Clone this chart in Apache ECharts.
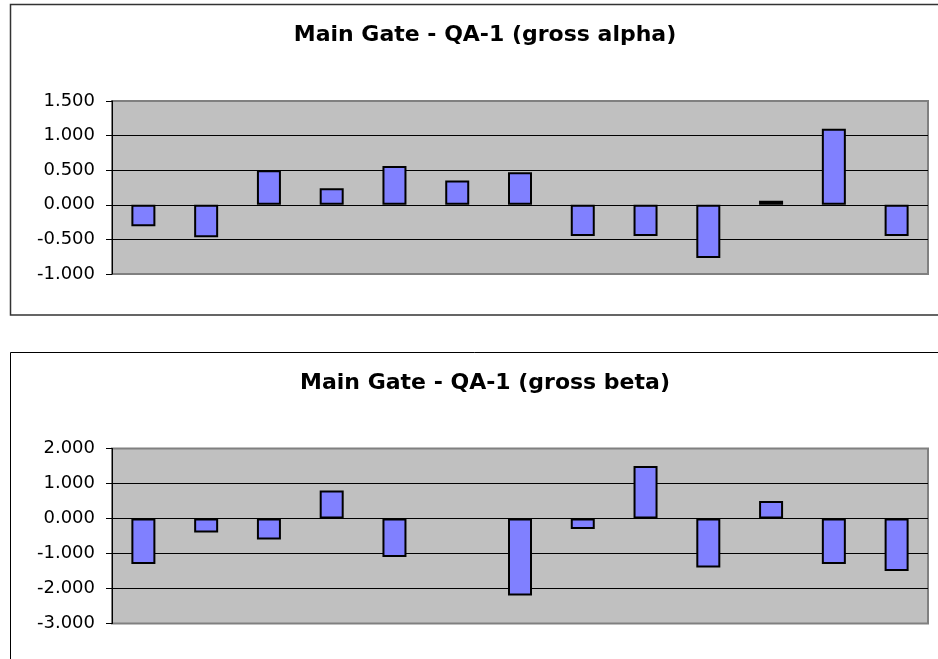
<!DOCTYPE html>
<html>
<head>
<meta charset="utf-8">
<script src="https://cdn.jsdelivr.net/npm/echarts@6/dist/echarts.min.js"></script>
<style>
  html, body { margin: 0; padding: 0; background: #ffffff; }
  #chart { width: 938px; height: 659px; }
</style>
</head>
<body>
<div id="chart"></div>
<script>
// Sample sequence (13 QA-1 measurements per panel)
const categories = ['1', '2', '3', '4', '5', '6', '7', '8', '9', '10', '11', '12', '13'];

// Gross alpha results
const alphaValues = [-0.31, -0.47, 0.50, 0.24, 0.56, 0.35, 0.47, -0.45, -0.45, -0.77, 0.06, 1.10, -0.45];

// Gross beta results (no result for sample 6)
const betaValues = [-1.3, -0.4, -0.6, 0.8, -1.1, null, -2.2, -0.3, 1.5, -1.4, 0.5, -1.3, -1.5];

// Value axis ranges / tick steps
const alphaAxis = { min: -1, max: 1.5, interval: 0.5 };
const betaAxis = { min: -3, max: 2, interval: 1 };

const titles = ['Main Gate - QA-1 (gross alpha)', 'Main Gate - QA-1 (gross beta)'];

const FONT = 'DejaVu Sans';
const PANEL_OFFSET = 348;

function gridFor(i) {
  return {
    left: 112,
    right: 10,
    top: i === 0 ? 101 : 101 + PANEL_OFFSET - 0.5,
    height: i === 0 ? 173 : 175,
    show: true,
    backgroundColor: '#C0C0C0',
    borderColor: '#808080',
    borderWidth: 2
  };
}

function yAxisFor(i, range) {
  return {
    type: 'value',
    gridIndex: i,
    min: range.min,
    max: range.max,
    interval: range.interval,
    axisLine: { show: true, lineStyle: { color: '#000000', width: 1 } },
    axisTick: { show: true, length: 6, lineStyle: { color: '#000000', width: 1 } },
    axisLabel: {
      margin: 17,
      color: '#000000',
      fontFamily: FONT,
      fontSize: 18,
      formatter: v => v.toFixed(3)
    },
    splitLine: {
      show: true,
      showMinLine: false,
      showMaxLine: false,
      lineStyle: { color: '#000000', width: 1 }
    }
  };
}

function xAxisFor(i) {
  return {
    type: 'category',
    gridIndex: i,
    data: categories,
    boundaryGap: true,
    axisLine: { show: false },
    axisTick: { show: false },
    axisLabel: { show: false },
    splitLine: { show: false }
  };
}

function barSeries(i, values) {
  return {
    type: 'bar',
    xAxisIndex: i,
    yAxisIndex: i,
    data: values,
    barWidth: 24,
    itemStyle: { color: '#8080FF', borderColor: '#000000', borderWidth: 2 },
    emphasis: { disabled: true },
    animation: false
  };
}

const chart = echarts.init(document.getElementById('chart'), null, { renderer: 'canvas' });

chart.setOption({
  animation: false,
  backgroundColor: '#ffffff',
  title: titles.map((t, i) => ({
    text: t,
    left: 480,
    top: 19 + i * PANEL_OFFSET,
    textAlign: 'center',
    textStyle: { fontFamily: FONT, fontWeight: 'bold', fontSize: 22, color: '#000000' }
  })),
  graphic: [
    {
      type: 'rect',
      shape: { x: 10.5, y: 4.5, width: 940, height: 310.5 },
      style: { fill: 'none', stroke: '#333333', lineWidth: 1.5 },
      silent: true
    },
    {
      type: 'rect',
      shape: { x: 10.5, y: 352.5, width: 940, height: 320 },
      style: { fill: 'none', stroke: '#000000', lineWidth: 1 },
      silent: true
    }
  ],
  grid: [gridFor(0), gridFor(1)],
  xAxis: [xAxisFor(0), xAxisFor(1)],
  yAxis: [yAxisFor(0, alphaAxis), yAxisFor(1, betaAxis)],
  series: [barSeries(0, alphaValues), barSeries(1, betaValues)]
});
</script>
</body>
</html>
